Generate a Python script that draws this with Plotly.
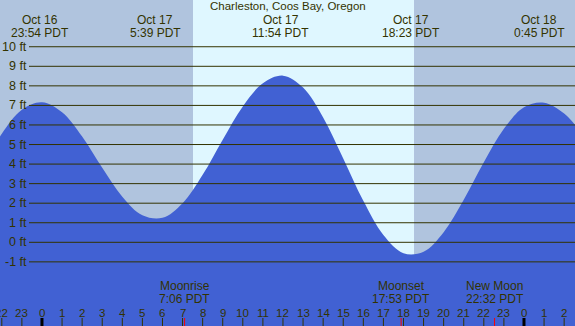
import plotly.graph_objects as go

W, H = 575, 326

# ---- data ----
tide_hours = list(range(-3, 28))
tide_ft = [3.72, 5.55, 6.78, 7.16, 6.65, 5.41, 3.81, 2.33, 1.38, 1.25, 2.00, 3.45,
           5.25, 6.95, 8.13, 8.52, 7.91, 6.38, 4.29, 2.12, 0.37, -0.56, -0.48, 0.52,
           2.17, 4.09, 5.80, 6.91, 7.14, 6.58, 5.41]

ext_dates = ["Oct 16", "Oct 17", "Oct 17", "Oct 17", "Oct 18"]
ext_times = ["23:54 PDT", "5:39 PDT", "11:54 PDT", "18:23 PDT", "0:45 PDT"]
ext_hours = [-0.1, 5.65, 11.9, 18.383, 24.75]

moon_events = ["Moonrise", "Moonset", "New Moon"]
moon_times = ["7:06 PDT", "17:53 PDT", "22:32 PDT"]
moon_hours = [7.1, 17.883, 22.533]

sunrise_hour = 7.52
sunset_hour = 18.53

ft_levels = list(range(-1, 11))
ft_labels = [f"{v} ft" for v in ft_levels]

hour_ticks = list(range(-2, 27))
hour_labels = [str(h % 24) for h in hour_ticks]

title = "Charleston, Coos Bay, Oregon"

# ---- styling ----
X_RANGE = [-2.09, 26.54]
Y_RANGE = [-4.28, 12.39]
NIGHT = "#B0C4DE"
DAY = "#DFF7FF"
FILL = "#4161D3"
TXT = "#333300"
FONT = "Liberation Sans"


def py(px):
    return 1 - px / H


def note(text, x, y, xref, yref, size=12.5, xanchor="center"):
    return dict(text=text, xref=xref, yref=yref, x=x, y=y, xanchor=xanchor,
                yanchor="middle", showarrow=False, borderpad=0,
                font=dict(family=FONT, size=size, color=TXT))


fig = go.Figure()
fig.add_trace(go.Scatter(x=tide_hours, y=[Y_RANGE[0] - 1] * len(tide_hours),
                         mode="lines", line=dict(width=0), hoverinfo="skip",
                         showlegend=False))
fig.add_trace(go.Scatter(x=tide_hours, y=tide_ft, mode="lines",
                         line=dict(width=0, shape="spline", smoothing=1.0, color=FILL),
                         fill="tonexty", fillcolor=FILL, hoverinfo="skip",
                         showlegend=False))

shapes = []
# night / day backgrounds
shapes.append(dict(type="rect", xref="x", yref="paper", x0=X_RANGE[0] - 1, x1=sunrise_hour,
                   y0=0, y1=1, fillcolor=NIGHT, line=dict(width=0), layer="below"))
shapes.append(dict(type="rect", xref="x", yref="paper", x0=sunrise_hour, x1=sunset_hour,
                   y0=0, y1=1, fillcolor=DAY, line=dict(width=0), layer="below"))
shapes.append(dict(type="rect", xref="x", yref="paper", x0=sunset_hour, x1=X_RANGE[1] + 1,
                   y0=0, y1=1, fillcolor=NIGHT, line=dict(width=0), layer="below"))

annotations = []
# gridlines + ft labels
for v, lab in zip(ft_levels, ft_labels):
    shapes.append(dict(type="line", xref="paper", yref="y", x0=29 / W, x1=1, y0=v, y1=v,
                       line=dict(color=TXT, width=1), layer="above"))
    annotations.append(note(lab, 27.5 / W, v, "paper", "y", xanchor="right"))

# hour ticks + labels
for h, lab in zip(hour_ticks, hour_labels):
    midnight = (h % 24 == 0)
    shapes.append(dict(type="line", xref="x", yref="paper", x0=h, x1=h,
                       y0=py(326), y1=py(318),
                       line=dict(color="#000000" if midnight else TXT,
                                 width=3 if midnight else 1), layer="above"))
    annotations.append(note(lab, h, py(312.8), "x", "paper", size=11.5))

# moon events
for name, t, h in zip(moon_events, moon_times, moon_hours):
    shapes.append(dict(type="line", xref="x", yref="paper", x0=h, x1=h,
                       y0=py(326), y1=py(318), line=dict(color="#FF0000", width=1),
                       layer="above"))
    annotations.append(note(name, h, py(286.3), "x", "paper", size=12))
    annotations.append(note(t, h, py(299), "x", "paper", size=12))

# extreme labels on top
for d, t, h in zip(ext_dates, ext_times, ext_hours):
    annotations.append(note(d, h, py(19.8), "x", "paper", size=12))
    annotations.append(note(t, h, py(32.6), "x", "paper", size=12))

annotations.append(note(title, 0.5, py(6.3), "paper", "paper", size=11.5))

fig.update_layout(
    width=W, height=H,
    margin=dict(l=0, r=0, t=0, b=0, pad=0),
    paper_bgcolor=NIGHT, plot_bgcolor=NIGHT,
    xaxis=dict(range=X_RANGE, visible=False, fixedrange=True),
    yaxis=dict(range=Y_RANGE, visible=False, fixedrange=True),
    shapes=shapes, annotations=annotations, showlegend=False,
)

fig.write_html("out.html", config={"displayModeBar": False},
               post_script="document.body.style.margin='0px';"
                           "document.body.style.overflow='hidden';")
